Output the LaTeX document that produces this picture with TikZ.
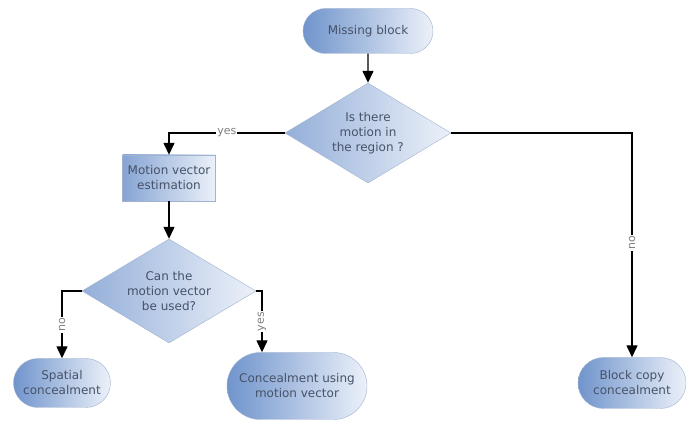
\documentclass[tikz,border=0pt]{standalone}
\usepackage{fontspec}
\setmainfont{DejaVu Sans}
\usetikzlibrary{shapes.geometric,shapes.misc,arrows.meta}
\definecolor{flowdark}{RGB}{112,148,204}
\definecolor{flowlight}{RGB}{236,241,249}
\definecolor{flowedge}{RGB}{160,178,206}
\definecolor{flowtext}{RGB}{70,82,104}
\begin{document}
\begin{tikzpicture}[x=1pt,y=-1pt]
  \tikzstyle{every node}=[font=\fontsize{12}{15}\selectfont,text=flowtext,align=center]
  \tikzstyle{pill}=[rounded rectangle,draw=flowedge,left color=flowdark,right color=flowlight,inner sep=0pt]
  \tikzstyle{box}=[rectangle,draw=flowedge,left color=flowdark!85,right color=flowlight,inner sep=0pt]
  \tikzstyle{query}=[diamond,aspect=1.67,draw=flowedge,left color=flowdark!75,right color=flowlight,inner sep=0pt]
  \tikzstyle{link}=[draw=black,line width=1.4pt,-{Triangle[length=12pt,width=11pt]}]
  \tikzstyle{answer}=[fill=white,text=gray,inner sep=1pt,font=\fontsize{11}{12}\selectfont]
  \useasboundingbox (0,0) rectangle (689,422);
  \node (miss) [pill,minimum width=130pt,minimum height=45pt] at (368,31) {Missing block};
  \node (q1) [query,minimum width=166pt,minimum height=100pt] at (368,133) {Is there\\motion in\\the region ?};
  \node (mve) [box,minimum width=93pt,minimum height=46pt] at (169,178) {Motion vector\\estimation};
  \node (q2) [query,minimum width=174pt,minimum height=104pt] at (169,291) {Can the\\motion vector\\be used?};
  \node (spatial) [pill,minimum width=97pt,minimum height=49pt] at (62,383) {Spatial\\concealment};
  \node (cmv) [pill,minimum width=140pt,minimum height=67pt] at (297,386) {Concealment using\\motion vector};
  \node (block) [pill,minimum width=108pt,minimum height=51pt] at (632,383) {Block copy\\concealment};
  \coordinate (bend) at (262,291);
  \draw [link] (miss) -- (q1);
  \draw [link] (q1.west) -| node [answer,pos=0.25] {yes} (mve);
  \draw [link] (mve) -- (q2);
  \draw [link] (q2.west) -| node [answer,pos=0.75,rotate=90] {no} (spatial);
  \draw [link] (q2.east) -- (bend) -- node [answer,rotate=90] {yes} (bend |- cmv.north);
  \draw [link] (q1.east) -| node [answer,pos=0.745,rotate=90] {no} (block);
\end{tikzpicture}
\end{document}
